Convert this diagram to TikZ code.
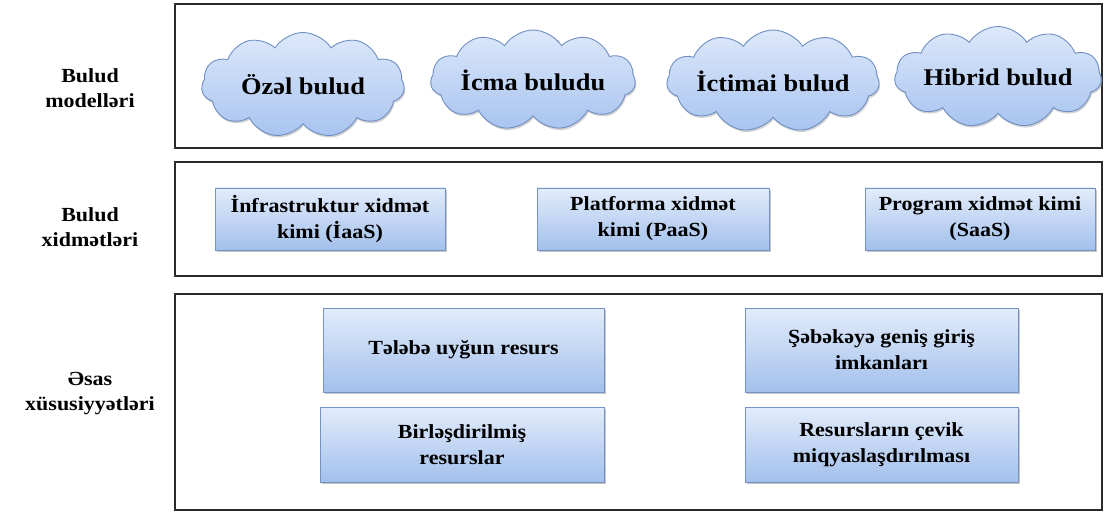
\documentclass[tikz,border=0pt]{standalone}
\usepackage{fontspec}
\setmainfont[FakeStretch=1.1]{Liberation Serif}
\usetikzlibrary{shapes.symbols,shadows}
\definecolor{frameline}{HTML}{2B2B2B}
\definecolor{boxtop}{HTML}{E2ECFB}
\definecolor{boxbot}{HTML}{A3C0EC}
\definecolor{boxedge}{HTML}{7593C2}
\definecolor{cloudtop}{HTML}{DDE8FA}
\definecolor{cloudbot}{HTML}{A8C4F0}
\definecolor{cloudedge}{HTML}{6F8FC3}
\tikzset{
  layer/.style={draw=frameline, line width=1.6pt},
  sidelabel/.style={font=\bfseries\fontsize{20}{25}\selectfont, align=center},
  cloudnode/.style={cloud, cloud puffs=11, cloud puff arc=115, cloud ignores aspect,
    draw=cloudedge, line width=0.9pt, top color=cloudtop, bottom color=cloudbot,
    inner sep=0pt, font=\bfseries\fontsize{24}{28}\selectfont,
    drop shadow={shadow xshift=1pt, shadow yshift=-2pt, fill=black!35, opacity=0.5}},
  featbox/.style={draw=boxedge, line width=0.9pt, top color=boxtop, bottom color=boxbot,
    align=center, inner sep=0pt, font=\bfseries\fontsize{20}{26}\selectfont,
    drop shadow={shadow xshift=1.5pt, shadow yshift=-2pt, fill=black!40, opacity=0.55}}
}
\begin{document}
\begin{tikzpicture}[x=1pt, y=-1pt]
\useasboundingbox (0,0) rectangle (1110,513);
\fill[white] (0,0) rectangle (1110,513);

% the three layer frames
\draw[layer] (175,4) rectangle (1102,148);
\draw[layer] (175,162) rectangle (1102,276);
\draw[layer] (175,294) rectangle (1102,510);

% row titles
\node[sidelabel] (tmodels) at (90,88) {Bulud\\modelləri};
\node[sidelabel] (tservices) at (90,227) {Bulud\\xidmətləri};
\node[sidelabel] (tfeatures) at (90,394) {Əsas\\xüsusiyyətləri};

% deployment models
\node[cloudnode, minimum width=203pt, minimum height=105pt] (private) at (303,85) {Özəl bulud};
\node[cloudnode, minimum width=205pt, minimum height=100pt] (community) at (533,80) {İcma buludu};
\node[cloudnode, minimum width=207pt, minimum height=102pt] (public) at (773,81) {İctimai bulud};
\node[cloudnode, minimum width=207pt, minimum height=101pt] (hybrid) at (998,77) {Hibrid bulud};

% service models
\node[featbox, minimum width=230pt, minimum height=62pt] (iaas) at (330,219) {İnfrastruktur xidmət\\kimi (İaaS)};
\node[featbox, minimum width=232pt, minimum height=62pt] (paas) at (653,219) {Platforma xidmət\\kimi (PaaS)};
\node[featbox, minimum width=230pt, minimum height=62pt] (saas) at (980,219) {Program xidmət kimi\\(SaaS)};

% essential characteristics
\node[featbox, minimum width=281pt, minimum height=84pt] (ondemand) at (463.5,350) {Tələbə uyğun resurs};
\node[featbox, minimum width=284pt, minimum height=75pt] (pooling) at (462,444.5) {Birləşdirilmiş\\resurslar};
\node[featbox, minimum width=273pt, minimum height=84pt] (access) at (881.5,350) {Şəbəkəyə geniş giriş\\imkanları};
\node[featbox, minimum width=273pt, minimum height=75pt] (elastic) at (881.5,444.5) {Resursların çevik\\miqyaslaşdırılması};
\end{tikzpicture}
\end{document}
